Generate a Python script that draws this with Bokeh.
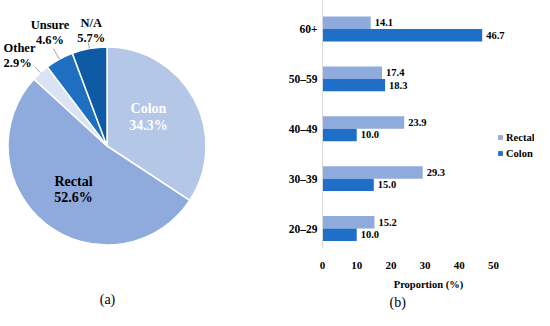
import numpy as np
from bokeh.plotting import figure
from bokeh.models import ColumnDataSource, Range1d, Legend, LegendItem, FixedTicker, Title
from bokeh.layouts import row
from bokeh.embed import file_html
from bokeh.resources import INLINE
from bokeh.core.properties import value

# ---- data ----
pie_labels = ["Colon", "Rectal", "Other", "Unsure", "N/A"]
pie_values = [34.3, 52.6, 2.9, 4.6, 5.7]
pie_colors = ["#b4c7e7", "#8faadc", "#dae3f3", "#1f6fc1", "#0e5aa4"]

age_groups = ["20–29", "30–39", "40–49", "50–59", "60+"]
rectal = [15.2, 29.3, 23.9, 17.4, 14.1]
colon = [10.0, 15.0, 10.0, 18.3, 46.7]
x_ticks = [0, 10, 20, 30, 40, 50]

FONT = value("Liberation Serif")
H = 310
BOTTOM = 62          # shared bottom border (row aligns the frames)
FRAME_H = H - BOTTOM

# ---- pie (a) ----
W1 = 267
PIE_FW = 214         # frame width, so that the "(a)" caption centres under the pie
p = figure(width=W1, height=H, x_range=Range1d(0, PIE_FW), y_range=Range1d(BOTTOM, H),
           output_backend="svg", toolbar_location=None,
           min_border_left=0, min_border_right=W1 - PIE_FW, min_border_top=0,
           min_border_bottom=BOTTOM)
p.yaxis.visible = False
p.grid.visible = False
p.outline_line_color = None
p.xaxis.ticker = FixedTicker(ticks=[])
p.xaxis.axis_line_color = None
p.xaxis.major_tick_out = 0
p.xaxis.minor_tick_out = 0
p.xaxis.major_tick_line_color = None
p.xaxis.minor_tick_line_color = None
p.xaxis.axis_label = "(a)"
p.xaxis.axis_label_standoff = 43
p.xaxis.axis_label_text_font = "Liberation Serif"
p.xaxis.axis_label_text_font_style = "normal"
p.xaxis.axis_label_text_font_size = "14px"
p.xaxis.axis_label_text_color = "black"

cx, cy, R = 106.5, 164.5, 99
vals = np.array(pie_values)
frac = np.cumsum(vals) / vals.sum()
starts = np.pi / 2 - 2 * np.pi * np.concatenate([[0], frac[:-1]])
ends = np.pi / 2 - 2 * np.pi * frac
psrc = ColumnDataSource(dict(start=starts, end=ends, color=pie_colors))
p.wedge(x=cx, y=cy, radius=R, start_angle="start", end_angle="end", direction="clock",
        fill_color="color", line_color="white", line_width=1.5, source=psrc)

# leader lines for the small slices
mids = (starts + ends) / 2
for i, (r0, r1_) in zip([2, 3, 4], [(99, 107), (99, 111), (99, 105)]):
    a = mids[i]
    p.line([cx + r0 * np.cos(a), cx + r1_ * np.cos(a)],
           [cy + r0 * np.sin(a), cy + r1_ * np.sin(a)], line_color="#a6a6a6", line_width=1)

texts = [f"{n}\n{v}%" for n, v in zip(pie_labels, pie_values)]
lab_pos = {"Colon": (148, 193.5, "center", "white", "14px"),
           "Rectal": (73, 121, "center", "black", "14px"),
           "Other": (3, 255, "left", "black", "12.5px"),
           "Unsure": (49.5, 278.2, "center", "black", "12.5px"),
           "N/A": (90.7, 280, "center", "black", "12.5px")}
for n, t in zip(pie_labels, texts):
    x, y, al, col, fs = lab_pos[n]
    p.text(x=[x], y=[y], text=[t], text_align=al, text_baseline="middle",
           text_color=col, text_font=FONT, text_font_style="bold",
           text_font_size=fs, text_line_height=1.1)

# ---- bars (b) ----
W2 = 534 - W1
LEFT = 322 - W1
xmax = (534 - 322) / 3.42
pxu = 49.875
b = figure(width=W2, height=H, x_range=Range1d(0, xmax),
           y_range=Range1d(-(FRAME_H - 228) / pxu, 4 + 28.5 / pxu),
           output_backend="svg", toolbar_location=None,
           min_border_left=LEFT, min_border_right=0, min_border_top=0, min_border_bottom=BOTTOM)
b.grid.visible = False
b.outline_line_color = None

ypos = np.arange(len(age_groups))
bsrc = ColumnDataSource(dict(yr=ypos + 0.125, yc=ypos - 0.125, rectal=rectal, colon=colon,
                             rl=[f"{v:.1f}" for v in rectal], cl=[f"{v:.1f}" for v in colon]))
r1 = b.hbar(y="yr", left=0, right="rectal", height=0.25, fill_color="#8faadc",
            line_color=None, source=bsrc)
r2 = b.hbar(y="yc", left=0, right="colon", height=0.25, fill_color="#1f6fc9",
            line_color=None, source=bsrc)
for xf, yf, tf in [("rectal", "yr", "rl"), ("colon", "yc", "cl")]:
    b.text(x=xf, y=yf, text=tf, x_offset=4, text_baseline="middle", text_align="left",
           text_font=FONT, text_font_style="bold", text_font_size="10.5px",
           text_color="black", source=bsrc)

b.yaxis.ticker = FixedTicker(ticks=[float(v) for v in ypos])
b.yaxis.major_label_overrides = {float(i): g for i, g in zip(ypos, age_groups)}
b.yaxis.axis_line_color = "#d9d9d9"
b.yaxis.major_tick_line_color = None
b.yaxis.minor_tick_line_color = None
b.yaxis.major_tick_out = 0
b.yaxis.minor_tick_out = 0
b.yaxis.major_label_standoff = 5
b.yaxis.major_label_text_font = "Liberation Serif"
b.yaxis.major_label_text_font_style = "bold"
b.yaxis.major_label_text_font_size = "11.5px"
b.yaxis.major_label_text_color = "black"

b.xaxis.ticker = FixedTicker(ticks=x_ticks)
b.xaxis.axis_line_color = None
b.xaxis.major_tick_line_color = None
b.xaxis.minor_tick_line_color = None
b.xaxis.major_label_standoff = 7
b.xaxis.major_label_text_font = "Liberation Serif"
b.xaxis.major_label_text_font_style = "bold"
b.xaxis.major_label_text_font_size = "11px"
b.xaxis.major_label_text_color = "black"
b.xaxis.axis_label = "Proportion (%)"
b.xaxis.axis_label_standoff = 7
b.xaxis.axis_label_text_font = "Liberation Serif"
b.xaxis.axis_label_text_font_style = "bold"
b.xaxis.axis_label_text_font_size = "10.5px"
b.xaxis.axis_label_text_color = "black"

legend = Legend(items=[LegendItem(label="Rectal", renderers=[r1]),
                       LegendItem(label="Colon", renderers=[r2])],
                location=(175, FRAME_H - 161), border_line_color=None, background_fill_alpha=0,
                padding=0, margin=0, spacing=0, label_standoff=3,
                glyph_width=6, glyph_height=6, label_height=16,
                label_text_font="Liberation Serif", label_text_font_style="bold",
                label_text_font_size="10.5px", label_text_color="black")
b.add_layout(legend)

b.add_layout(Title(text="(b)", align="left", offset=67, standoff=0,
                   text_font="Liberation Serif", text_font_size="14px",
                   text_font_style="normal", text_color="black"), "below")

layout = row(p, b)
open("out.html", "w").write(file_html(layout, INLINE))
